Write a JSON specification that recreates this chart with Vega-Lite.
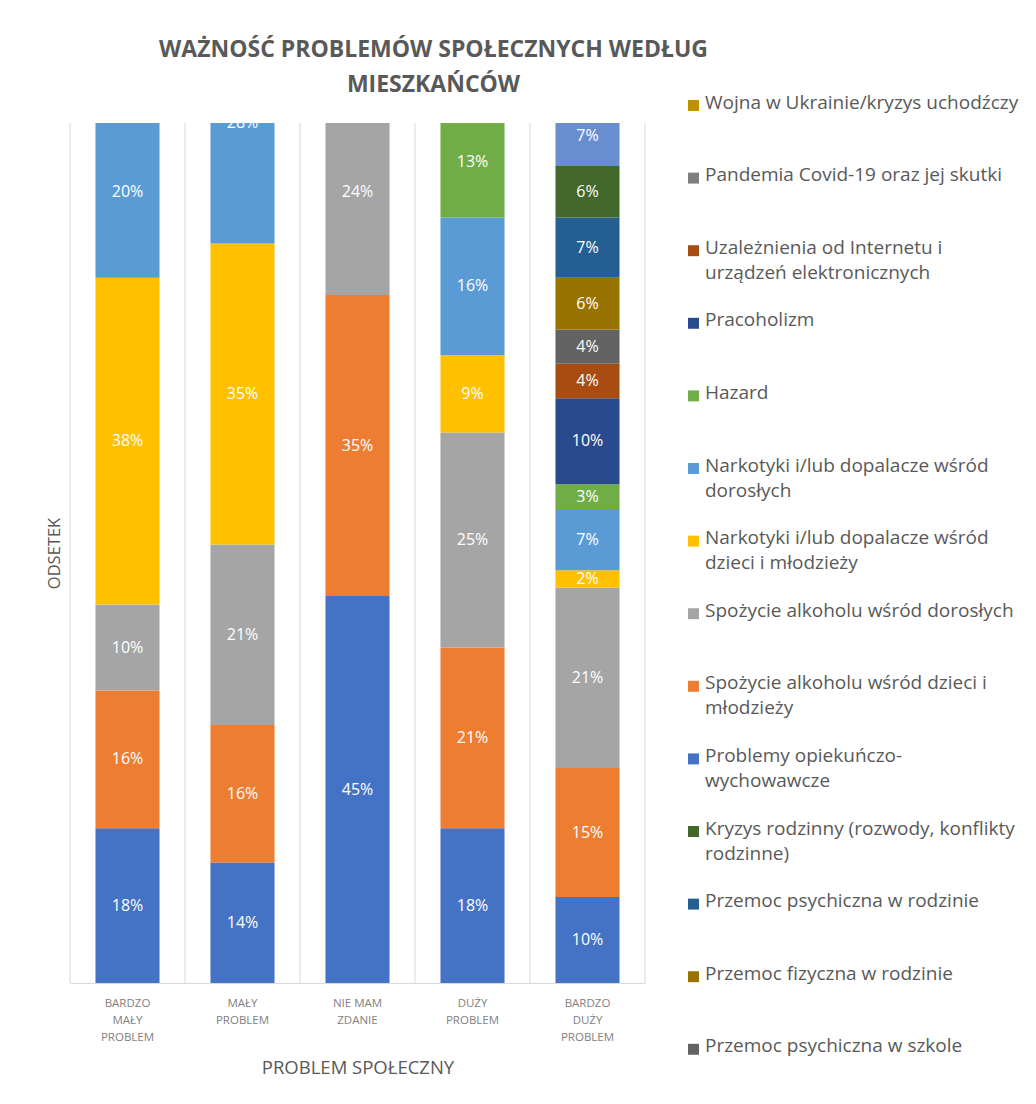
{
  "$schema": "https://vega.github.io/schema/vega-lite/v6.json",
  "autosize": {"type": "none"},
  "width": 575,
  "height": 860,
  "padding": {"left": 70, "top": 123, "right": 391, "bottom": 121},
  "background": "white",
  "title": {
    "text": ["WAŻNOŚĆ PROBLEMÓW SPOŁECZNYCH WEDŁUG", "MIESZKAŃCÓW"],
    "font": "Open Sans",
    "fontSize": 23,
    "fontWeight": "bold",
    "color": "#595959",
    "lineHeight": 35,
    "anchor": "middle",
    "dx": 76,
    "offset": -1
  },
  "config": {
    "view": {"stroke": null},
    "font": "Open Sans"
  },
  "data": {
    "values": [
      {"kat": "BARDZO MAŁY PROBLEM", "problem": "Problemy opiekuńczo-wychowawcze", "v": 0.18},
      {"kat": "BARDZO MAŁY PROBLEM", "problem": "Spożycie alkoholu wśród dzieci i młodzieży", "v": 0.16},
      {"kat": "BARDZO MAŁY PROBLEM", "problem": "Spożycie alkoholu wśród dorosłych", "v": 0.10},
      {"kat": "BARDZO MAŁY PROBLEM", "problem": "Narkotyki i/lub dopalacze wśród dzieci i młodzieży", "v": 0.38},
      {"kat": "BARDZO MAŁY PROBLEM", "problem": "Narkotyki i/lub dopalacze wśród dorosłych", "v": 0.20},
      {"kat": "MAŁY PROBLEM", "problem": "Problemy opiekuńczo-wychowawcze", "v": 0.14},
      {"kat": "MAŁY PROBLEM", "problem": "Spożycie alkoholu wśród dzieci i młodzieży", "v": 0.16},
      {"kat": "MAŁY PROBLEM", "problem": "Spożycie alkoholu wśród dorosłych", "v": 0.21},
      {"kat": "MAŁY PROBLEM", "problem": "Narkotyki i/lub dopalacze wśród dzieci i młodzieży", "v": 0.35},
      {"kat": "MAŁY PROBLEM", "problem": "Narkotyki i/lub dopalacze wśród dorosłych", "v": 0.28},
      {"kat": "NIE MAM ZDANIE", "problem": "Problemy opiekuńczo-wychowawcze", "v": 0.45},
      {"kat": "NIE MAM ZDANIE", "problem": "Spożycie alkoholu wśród dzieci i młodzieży", "v": 0.35},
      {"kat": "NIE MAM ZDANIE", "problem": "Spożycie alkoholu wśród dorosłych", "v": 0.24},
      {"kat": "DUŻY PROBLEM", "problem": "Problemy opiekuńczo-wychowawcze", "v": 0.18},
      {"kat": "DUŻY PROBLEM", "problem": "Spożycie alkoholu wśród dzieci i młodzieży", "v": 0.21},
      {"kat": "DUŻY PROBLEM", "problem": "Spożycie alkoholu wśród dorosłych", "v": 0.25},
      {"kat": "DUŻY PROBLEM", "problem": "Narkotyki i/lub dopalacze wśród dzieci i młodzieży", "v": 0.09},
      {"kat": "DUŻY PROBLEM", "problem": "Narkotyki i/lub dopalacze wśród dorosłych", "v": 0.16},
      {"kat": "DUŻY PROBLEM", "problem": "Hazard", "v": 0.13},
      {"kat": "BARDZO DUŻY PROBLEM", "problem": "Problemy opiekuńczo-wychowawcze", "v": 0.10},
      {"kat": "BARDZO DUŻY PROBLEM", "problem": "Spożycie alkoholu wśród dzieci i młodzieży", "v": 0.15},
      {"kat": "BARDZO DUŻY PROBLEM", "problem": "Spożycie alkoholu wśród dorosłych", "v": 0.21},
      {"kat": "BARDZO DUŻY PROBLEM", "problem": "Narkotyki i/lub dopalacze wśród dzieci i młodzieży", "v": 0.02},
      {"kat": "BARDZO DUŻY PROBLEM", "problem": "Narkotyki i/lub dopalacze wśród dorosłych", "v": 0.07},
      {"kat": "BARDZO DUŻY PROBLEM", "problem": "Hazard", "v": 0.03},
      {"kat": "BARDZO DUŻY PROBLEM", "problem": "Pracoholizm", "v": 0.10},
      {"kat": "BARDZO DUŻY PROBLEM", "problem": "Uzależnienia od Internetu i urządzeń elektronicznych", "v": 0.04},
      {"kat": "BARDZO DUŻY PROBLEM", "problem": "Przemoc psychiczna w szkole", "v": 0.04},
      {"kat": "BARDZO DUŻY PROBLEM", "problem": "Przemoc fizyczna w rodzinie", "v": 0.06},
      {"kat": "BARDZO DUŻY PROBLEM", "problem": "Przemoc psychiczna w rodzinie", "v": 0.07},
      {"kat": "BARDZO DUŻY PROBLEM", "problem": "Kryzys rodzinny (rozwody, konflikty rodzinne)", "v": 0.06},
      {"kat": "BARDZO DUŻY PROBLEM", "problem": "Inne", "v": 0.07}
    ]
  },
  "transform": [
    {"stack": "v", "groupby": ["kat"], "as": ["y0", "y1"], "offset": "zero"}
  ],
  "layer": [
    {
      "transform": [{"aggregate": [{"op": "count", "as": "n"}], "groupby": ["kat"]}],
      "mark": {"type": "rule", "color": "#D9D9D9", "strokeWidth": 1},
      "encoding": {
        "x": {
          "field": "kat",
          "type": "nominal",
          "sort": ["BARDZO MAŁY PROBLEM", "MAŁY PROBLEM", "NIE MAM ZDANIE", "DUŻY PROBLEM", "BARDZO DUŻY PROBLEM"],
          "bandPosition": -0.3977
        }
      }
    },
    {
      "transform": [
        {"filter": "datum.kat == 'BARDZO DUŻY PROBLEM'"},
        {"aggregate": [{"op": "count", "as": "n"}], "groupby": ["kat"]}
      ],
      "mark": {"type": "rule", "color": "#D9D9D9", "strokeWidth": 1},
      "encoding": {
        "x": {
          "field": "kat",
          "type": "nominal",
          "sort": ["BARDZO MAŁY PROBLEM", "MAŁY PROBLEM", "NIE MAM ZDANIE", "DUŻY PROBLEM", "BARDZO DUŻY PROBLEM"],
          "bandPosition": 1.3977
        }
      }
    },
    {
      "mark": {"type": "bar", "clip": true},
      "encoding": {
        "x": {
          "field": "kat",
          "type": "nominal",
          "sort": ["BARDZO MAŁY PROBLEM", "MAŁY PROBLEM", "NIE MAM ZDANIE", "DUŻY PROBLEM", "BARDZO DUŻY PROBLEM"],
          "scale": {"paddingInner": 0.443, "paddingOuter": 0.2215},
          "axis": {
            "title": "PROBLEM SPOŁECZNY",
            "titleFont": "Open Sans",
            "titleFontSize": 18.5,
            "titleFontWeight": "normal",
            "titleColor": "#595959",
            "titlePadding": 16,
            "labelAngle": 0,
            "labelAlign": "center",
            "labelFont": "Open Sans",
            "labelFontSize": 11.5,
            "labelColor": "#7F7F7F",
            "labelLineHeight": 17,
            "labelPadding": 14,
            "labelBaseline": "top",
            "labelExpr": "datum.value == 'NIE MAM ZDANIE' ? ['NIE MAM', 'ZDANIE'] : split(datum.value, ' ')",
            "ticks": false,
            "grid": false,
            "domainColor": "#D9D9D9"
          }
        },
        "y": {
          "field": "y0",
          "type": "quantitative",
          "title": "ODSETEK",
          "scale": {"domain": [0, 1], "nice": false},
          "axis": {
            "title": "ODSETEK",
            "titleFont": "Open Sans",
            "titleFontSize": 16.5,
            "titleFontWeight": "normal",
            "titleColor": "#595959",
            "titlePadding": 8,
            "labels": false,
            "ticks": false,
            "domain": false,
            "grid": false
          }
        },
        "y2": {"field": "y1"},
        "color": {
          "field": "problem",
          "type": "nominal",
          "scale": {
            "domain": [
              "Wojna w Ukrainie/kryzys uchodźczy",
              "Pandemia Covid-19 oraz jej skutki",
              "Uzależnienia od Internetu i urządzeń elektronicznych",
              "Pracoholizm",
              "Hazard",
              "Narkotyki i/lub dopalacze wśród dorosłych",
              "Narkotyki i/lub dopalacze wśród dzieci i młodzieży",
              "Spożycie alkoholu wśród dorosłych",
              "Spożycie alkoholu wśród dzieci i młodzieży",
              "Problemy opiekuńczo-wychowawcze",
              "Kryzys rodzinny (rozwody, konflikty rodzinne)",
              "Przemoc psychiczna w rodzinie",
              "Przemoc fizyczna w rodzinie",
              "Przemoc psychiczna w szkole",
              "Inne"
            ],
            "range": ["#BF9000", "#7F7F7F", "#A84C12", "#2A4A8E", "#70AD47", "#5B9BD5", "#FFC000", "#A5A5A5", "#ED7D31", "#4472C4", "#43682B", "#255E91", "#997300", "#636363", "#698ED0"]
          },
          "legend": {
            "title": null,
            "orient": "none",
            "legendX": 614,
            "legendY": -27,
            "padding": 0,
            "values": [
              "Wojna w Ukrainie/kryzys uchodźczy",
              "Pandemia Covid-19 oraz jej skutki",
              "Uzależnienia od Internetu i urządzeń elektronicznych",
              "Pracoholizm",
              "Hazard",
              "Narkotyki i/lub dopalacze wśród dorosłych",
              "Narkotyki i/lub dopalacze wśród dzieci i młodzieży",
              "Spożycie alkoholu wśród dorosłych",
              "Spożycie alkoholu wśród dzieci i młodzieży",
              "Problemy opiekuńczo-wychowawcze",
              "Kryzys rodzinny (rozwody, konflikty rodzinne)",
              "Przemoc psychiczna w rodzinie",
              "Przemoc fizyczna w rodzinie",
              "Przemoc psychiczna w szkole"
            ],
            "symbolType": "square",
            "symbolSize": 120,
            "symbolStrokeWidth": 0,
            "labelFont": "Open Sans",
            "labelFontSize": 19,
            "labelColor": "#595959",
            "labelLimit": 0,
            "labelOffset": 2,
            "labelBaseline": "top",
            "gridAlign": "all",
            "rowPadding": 27.6,
            "labelExpr": "datum.label == 'Uzależnienia od Internetu i urządzeń elektronicznych' ? ['Uzależnienia od Internetu i', 'urządzeń elektronicznych'] : datum.label == 'Narkotyki i/lub dopalacze wśród dorosłych' ? ['Narkotyki i/lub dopalacze wśród', 'dorosłych'] : datum.label == 'Narkotyki i/lub dopalacze wśród dzieci i młodzieży' ? ['Narkotyki i/lub dopalacze wśród', 'dzieci i młodzieży'] : datum.label == 'Spożycie alkoholu wśród dzieci i młodzieży' ? ['Spożycie alkoholu wśród dzieci i', 'młodzieży'] : datum.label == 'Problemy opiekuńczo-wychowawcze' ? ['Problemy opiekuńczo-', 'wychowawcze'] : datum.label == 'Kryzys rodzinny (rozwody, konflikty rodzinne)' ? ['Kryzys rodzinny (rozwody, konflikty', 'rodzinne)'] : datum.label",
            "encode": {
              "labels": {"update": {"dy": {"value": -12}, "lineHeight": {"value": 25}}}
            }
          }
        }
      }
    },
    {
      "mark": {
        "type": "text",
        "clip": true,
        "color": "white",
        "font": "Open Sans",
        "fontSize": 16,
        "baseline": "middle",
        "dy": {"expr": "(scale('y', datum.y1) - scale('y', datum.y0)) / 2"}
      },
      "encoding": {
        "x": {
          "field": "kat",
          "type": "nominal",
          "sort": ["BARDZO MAŁY PROBLEM", "MAŁY PROBLEM", "NIE MAM ZDANIE", "DUŻY PROBLEM", "BARDZO DUŻY PROBLEM"]
        },
        "y": {"field": "y0", "type": "quantitative", "title": "ODSETEK"},
        "text": {"field": "v", "type": "quantitative", "format": ".0%"}
      }
    }
  ]
}
